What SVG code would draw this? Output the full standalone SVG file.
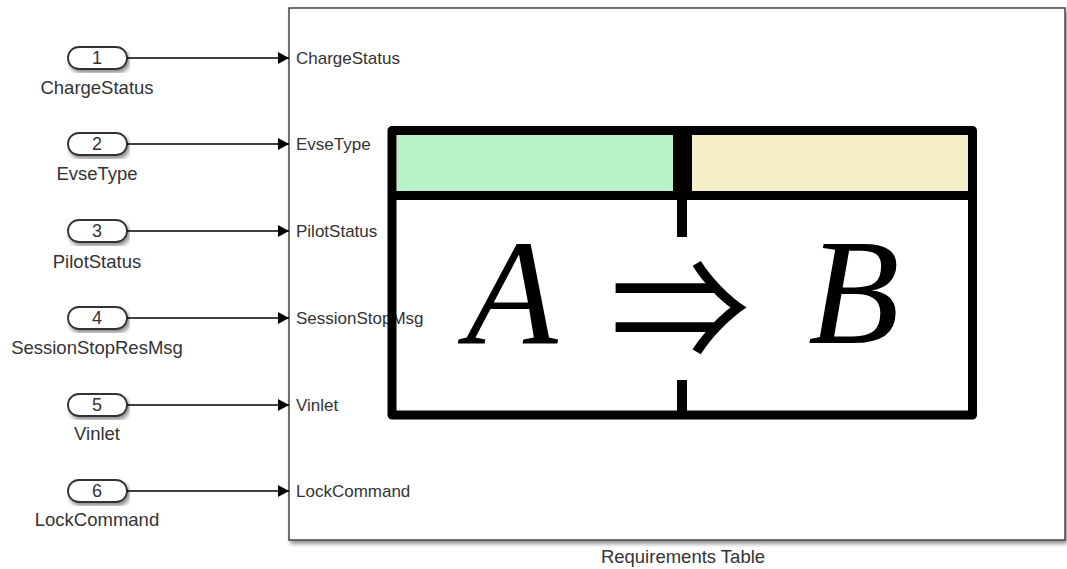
<svg xmlns="http://www.w3.org/2000/svg" width="1067" height="569" viewBox="0 0 1067 569">
<defs>
<style>
.lbl{font-family:"Liberation Sans",Arial,sans-serif;font-size:18.5px;fill:#333;text-anchor:middle}
.num{font-family:"Liberation Sans",Arial,sans-serif;font-size:18px;fill:#333;text-anchor:middle}
.port{font-family:"Liberation Sans",Arial,sans-serif;font-size:17px;fill:#333}
.oval{fill:#fff;stroke:#333;stroke-width:1.8}
.wire{stroke:#000;stroke-width:1.3;fill:none;marker-end:url(#ah)}
.thick{stroke:#000;fill:none}
.math{font-family:"Liberation Serif","Times New Roman",serif;font-style:italic;font-size:150px;fill:#000}
</style>
<marker id="ah" markerWidth="12" markerHeight="12" refX="11" refY="6" orient="auto" markerUnits="userSpaceOnUse">
<path d="M0,0 L11,6 L0,12 Z" fill="#000"/>
</marker>
<filter id="sh" x="-5%" y="-5%" width="110%" height="120%">
<feGaussianBlur in="SourceAlpha" stdDeviation="2"/>
<feOffset dx="2" dy="3" result="b"/>
<feComponentTransfer><feFuncA type="linear" slope="0.45"/></feComponentTransfer>
<feMerge><feMergeNode/><feMergeNode in="SourceGraphic"/></feMerge>
</filter>
</defs>
<rect width="1067" height="569" fill="#fff"/>

<g id="block">
<rect x="289" y="8" width="776" height="532" fill="#fff" stroke="#444" stroke-width="1.5" filter="url(#sh)"/>
<text class="port" x="296" y="64">ChargeStatus</text>
<text class="port" x="296" y="150">EvseType</text>
<text class="port" x="296" y="237">PilotStatus</text>
<text class="port" x="296" y="324">SessionStopMsg</text>
<text class="port" x="296" y="411">Vinlet</text>
<text class="port" x="296" y="497">LockCommand</text>
<text class="lbl" x="683" y="563">Requirements Table</text>
</g>

<g id="icon">
<rect x="397" y="135" width="276" height="56" fill="#b9f1c9"/>
<rect x="692" y="135" width="276" height="56" fill="#f5efc8"/>
<rect x="392" y="130.5" width="580.5" height="284.5" class="thick" stroke-width="9" stroke-linejoin="round"/>
<line x1="392" y1="195.5" x2="972.5" y2="195.5" class="thick" stroke-width="9"/>
<rect x="673" y="130" width="19" height="66" fill="#000"/>
<line x1="682" y1="196" x2="682" y2="237" class="thick" stroke-width="10"/>
<line x1="682" y1="380" x2="682" y2="415" class="thick" stroke-width="10"/>
<text class="math" x="466" y="343">A</text>
<text x="680" y="360" font-family="Noto Sans CJK JP,DejaVu Sans,sans-serif" font-size="140" text-anchor="middle" fill="#000">⇒</text>
<text class="math" x="808" y="343">B</text>
</g>

<g id="in1"><rect class="oval" x="68" y="47" width="59" height="22" rx="11" filter="url(#sh)"/><text class="num" x="97" y="64">1</text><text class="lbl" x="97" y="94">ChargeStatus</text></g>
<g id="in2"><rect class="oval" x="68" y="133" width="59" height="22" rx="11" filter="url(#sh)"/><text class="num" x="97" y="150">2</text><text class="lbl" x="97" y="180">EvseType</text></g>
<g id="in3"><rect class="oval" x="68" y="220" width="59" height="22" rx="11" filter="url(#sh)"/><text class="num" x="97" y="237">3</text><text class="lbl" x="97" y="268">PilotStatus</text></g>
<g id="in4"><rect class="oval" x="68" y="307" width="59" height="22" rx="11" filter="url(#sh)"/><text class="num" x="97" y="324">4</text><text class="lbl" x="97" y="354">SessionStopResMsg</text></g>
<g id="in5"><rect class="oval" x="68" y="394" width="59" height="22" rx="11" filter="url(#sh)"/><text class="num" x="97" y="411">5</text><text class="lbl" x="97" y="440">Vinlet</text></g>
<g id="in6"><rect class="oval" x="68" y="480" width="59" height="22" rx="11" filter="url(#sh)"/><text class="num" x="97" y="497">6</text><text class="lbl" x="97" y="526">LockCommand</text></g>

<g id="connectors">
<line class="wire" x1="127" y1="58" x2="289" y2="58"/>
<line class="wire" x1="127" y1="144" x2="289" y2="144"/>
<line class="wire" x1="127" y1="231" x2="289" y2="231"/>
<line class="wire" x1="127" y1="318" x2="289" y2="318"/>
<line class="wire" x1="127" y1="405" x2="289" y2="405"/>
<line class="wire" x1="127" y1="491" x2="289" y2="491"/>
</g>
</svg>
